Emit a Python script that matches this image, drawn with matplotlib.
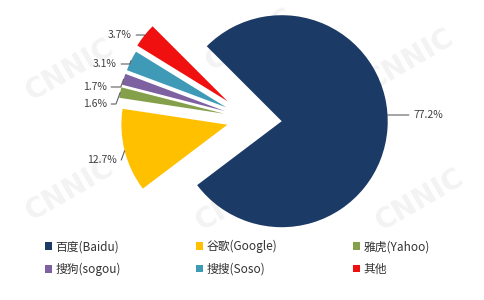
import numpy as np
import matplotlib
matplotlib.use('Agg')
import matplotlib.pyplot as plt

plt.rcParams['font.family'] = ['Noto Sans CJK SC', 'DejaVu Sans']

# 数据
names = ['百度(Baidu)', '谷歌(Google)', '雅虎(Yahoo)', '搜狗(sogou)', '搜搜(Soso)', '其他']
shares = [77.2, 12.7, 1.6, 1.7, 3.1, 3.7]
colors = ['#1B3A66', '#FFC000', '#85A04A', '#7D61A0', '#3F9AB8', '#F01010']
explode = [0.30, 0.22, 0.25, 0.25, 0.25, 0.27]

# 标签位置（像素，左上为原点）
label_px = [(413, 115), (117, 160), (107, 104), (107, 87), (117, 64), (132, 35)]

W, H = 484, 300
cx, cy, R = 250, 119, 106   # 饼图中心与半径（像素）

fig = plt.figure(figsize=(W / 100, H / 100), dpi=100)
ax = fig.add_axes([0, 0, 1, 1])


def px(x, y):
    return ((x - cx) / R, (cy - y) / R)


# 水印
for wx, wy in [(70, 70), (250, 40), (410, 60), (70, 190), (240, 200), (420, 200)]:
    ax.text(*px(wx, wy), 'CNNIC', fontsize=20, color='#f3f3f3', rotation=30,
            ha='center', va='center', fontweight='bold', family='DejaVu Sans', zorder=0)

wedges, _ = ax.pie(shares, colors=colors, explode=explode, startangle=135,
                   counterclock=False, radius=1,
                   wedgeprops=dict(linewidth=0))

for i, w in enumerate(wedges):
    mid = np.deg2rad((w.theta1 + w.theta2) / 2)
    ex, ey = w.center
    tx, ty = label_px[i]
    if i == 0:
        # 水平引线
        lx, ly = px(tx, ty)
        ang = np.arcsin(np.clip(ly - ey, -1, 1))
        ax.annotate(f'{shares[i]}%', xy=(ex + np.cos(ang), ly), xytext=(lx, ly),
                    fontsize=7.5, color='#404040', ha='left', va='center',
                    arrowprops=dict(arrowstyle='-', color='#606060', lw=0.8,
                                    shrinkA=1, shrinkB=0))
    else:
        ax_pt = (ex + np.cos(mid), ey + np.sin(mid))
        ax.annotate(f'{shares[i]}%', xy=ax_pt, xytext=px(tx, ty), fontsize=7.5,
                    color='#404040', ha='right', va='center',
                    arrowprops=dict(arrowstyle='-', color='#606060', lw=0.8,
                                    shrinkA=1, shrinkB=0,
                                    connectionstyle='angle,angleA=0,angleB=70,rad=0'))

ax.set_xlim(-cx / R, (W - cx) / R)
ax.set_ylim(-(H - cy) / R, cy / R)
ax.axis('off')

# 图例按行排列
order = [0, 3, 1, 4, 2, 5]
leg = ax.legend([wedges[k] for k in order], [names[k] for k in order],
                loc='upper left', bbox_to_anchor=(0.07, 0.235),
                ncol=3, frameon=False, fontsize=8.5, handlelength=0.6,
                handleheight=0.6, handletextpad=0.3, columnspacing=6.4,
                labelspacing=0.8, labelcolor='#333333')

fig.savefig('out.png', dpi=100)
